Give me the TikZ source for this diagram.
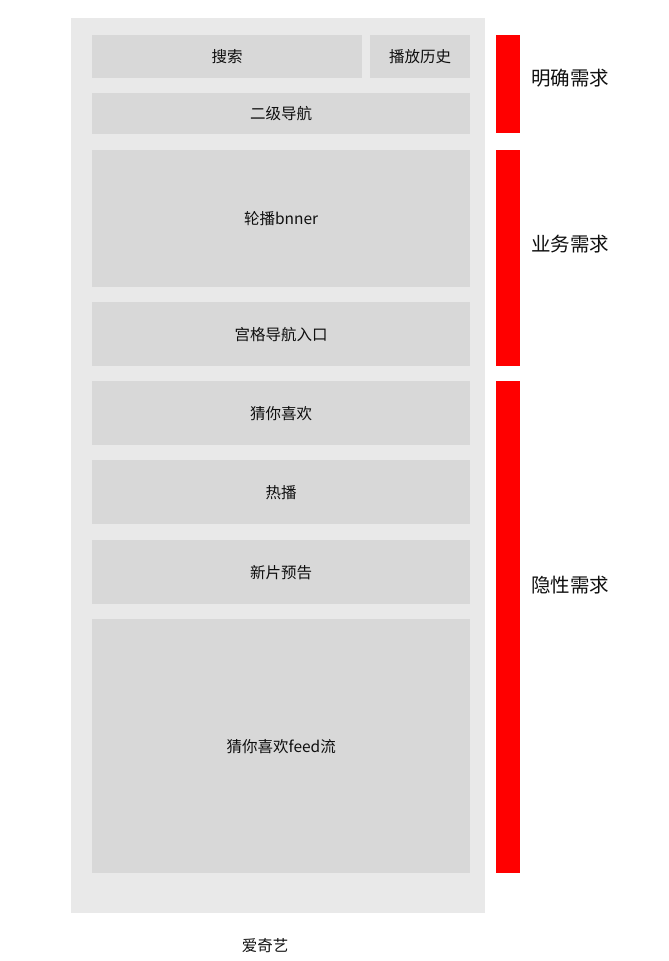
\documentclass[tikz,border=0pt]{standalone}
\usepackage{fontspec}
\setmainfont{Noto Sans CJK SC}
\usetikzlibrary{positioning}
\definecolor{panelgray}{RGB}{233, 233, 233}
\definecolor{blockgray}{RGB}{216, 216, 216}
\definecolor{markred}{RGB}{255, 0, 0}
\definecolor{textdark}{RGB}{15, 15, 15}
\tikzset{
    block/.style={fill=blockgray, inner sep=0pt, anchor=north west, font=\fontsize{15.5}{18}\selectfont, text=textdark},
    redbar/.style={fill=markred, inner sep=0pt, anchor=north west, minimum width=24pt},
    tag/.style={anchor=west, inner sep=0pt, font=\fontsize{19.5}{22}\selectfont, text=textdark}
}

\begin{document}
\begin{tikzpicture}[x=1pt, y=-1pt]
    \useasboundingbox (0, 0) rectangle (669, 961);

    % Page panel
    \node[fill=panelgray, inner sep=0pt, anchor=north west, minimum width=414pt, minimum height=895pt] (panel) at (71, 18) {};

    % Blocks
    \node[block, minimum width=270pt, minimum height=43pt] (search) at (92, 35) {搜索};
    \node[block, minimum width=100pt, minimum height=43pt] (history) at (370, 35) {播放历史};
    \node[block, minimum width=378pt, minimum height=41pt] (subnav) at (92, 93) {二级导航};
    \node[block, minimum width=378pt, minimum height=137pt] (banner) at (92, 150) {轮播bnner};
    \node[block, minimum width=378pt, minimum height=64pt] (grid) at (92, 302) {宫格导航入口};
    \node[block, minimum width=378pt, minimum height=64pt] (guess) at (92, 381) {猜你喜欢};
    \node[block, minimum width=378pt, minimum height=64pt] (hot) at (92, 460) {热播};
    \node[block, minimum width=378pt, minimum height=64pt] (trailer) at (92, 540) {新片预告};
    \node[block, minimum width=378pt, minimum height=254pt] (feed) at (92, 619) {猜你喜欢feed流};

    % Red bars
    \node[redbar, minimum height=98pt] (bar1) at (496, 35) {};
    \node[redbar, minimum height=216pt] (bar2) at (496, 150) {};
    \node[redbar, minimum height=492pt] (bar3) at (496, 381) {};

    % Labels
    \node[tag] (explicit) at (531, 78) {明确需求};
    \node[tag] (business) at (531, 244) {业务需求};
    \node[tag] (implicit) at (531, 585) {隐性需求};

    % Title
    \node[inner sep=0pt, font=\fontsize{15.5}{18}\selectfont, text=textdark] (title) at (265, 946) {爱奇艺};
\end{tikzpicture}
\end{document}
